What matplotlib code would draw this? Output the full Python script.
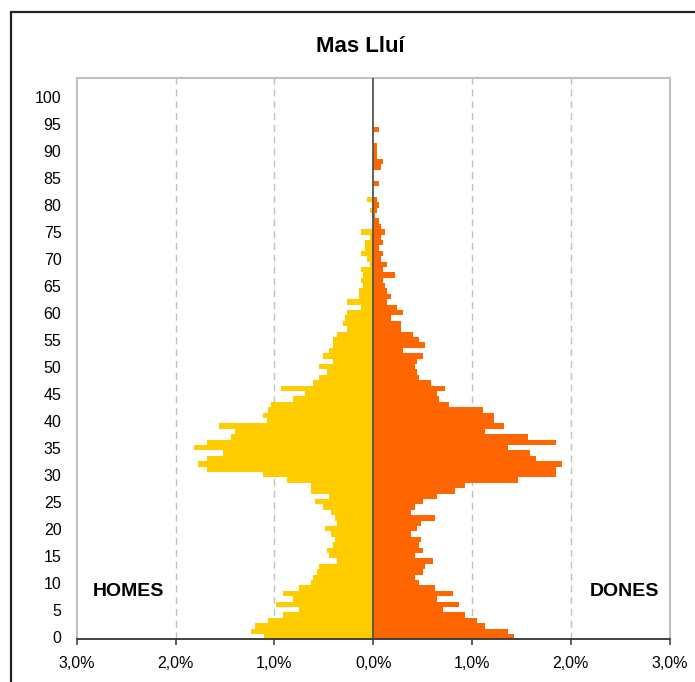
import numpy as np
import matplotlib
matplotlib.use("Agg")
import matplotlib.pyplot as plt
from matplotlib.patches import Rectangle

# ------------------------------------------------------------
# Data (% of total population per age)
# ------------------------------------------------------------
ages = list(range(0, 101))

homes = [1.109, 1.241, 1.201, 1.068, 0.915, 0.752, 0.986, 0.813, 0.915, 0.752,
         0.629, 0.609, 0.568, 0.548, 0.364, 0.446, 0.466, 0.405, 0.384, 0.425,
         0.486, 0.364, 0.384, 0.425, 0.507, 0.588, 0.446, 0.629, 0.629, 0.874,
         1.119, 1.680, 1.772, 1.680, 1.517, 1.813, 1.680, 1.435, 1.395, 1.558,
         1.078, 1.119, 1.068, 1.037, 0.813, 0.690, 0.935, 0.609, 0.548, 0.466,
         0.548, 0.405, 0.507, 0.446, 0.405, 0.405, 0.364, 0.262, 0.303, 0.282,
         0.262, 0.119, 0.262, 0.139, 0.139, 0.099, 0.119, 0.099, 0.119, 0.037,
         0.058, 0.119, 0.078, 0.078, 0.037, 0.119, 0.0, 0.0, 0.017, 0.037,
         0.017, 0.058, 0.017, 0.0, 0.0, 0.0, 0.0, 0.017, 0.017, 0.017,
         0.0, 0.0, 0.0, 0.017, 0.017, 0.0, 0.0, 0.0, 0.0, 0.0,
         0.0]

dones = [1.422, 1.361, 1.136, 1.054, 0.932, 0.707, 0.871, 0.646, 0.810, 0.626,
         0.463, 0.422, 0.503, 0.524, 0.605, 0.422, 0.503, 0.463, 0.483, 0.381,
         0.442, 0.483, 0.626, 0.381, 0.422, 0.503, 0.646, 0.830, 0.932, 1.463,
         1.850, 1.850, 1.912, 1.646, 1.585, 1.361, 1.850, 1.565, 1.136, 1.320,
         1.218, 1.218, 1.116, 0.769, 0.667, 0.646, 0.728, 0.585, 0.463, 0.442,
         0.422, 0.442, 0.503, 0.299, 0.524, 0.463, 0.401, 0.279, 0.279, 0.177,
         0.299, 0.238, 0.136, 0.177, 0.136, 0.116, 0.095, 0.218, 0.095, 0.136,
         0.075, 0.095, 0.054, 0.095, 0.075, 0.116, 0.075, 0.054, 0.017, 0.034,
         0.054, 0.034, 0.0, 0.0, 0.054, 0.0, 0.0, 0.075, 0.095, 0.034,
         0.034, 0.034, 0.0, 0.0, 0.054, 0.0, 0.0, 0.0, 0.0, 0.0,
         0.0]

x_ticks = [-3, -2, -1, 0, 1, 2, 3]
x_labels = ["3,0%", "2,0%", "1,0%", "0,0%", "1,0%", "2,0%", "3,0%"]
y_ticks = list(range(0, 101, 5))

title = "Mas Lluí"

# ------------------------------------------------------------
# Figure
# ------------------------------------------------------------
plt.rcParams["font.family"] = ["Liberation Sans", "DejaVu Sans"]

W, H = 695, 682
fig = plt.figure(figsize=(W / 100, H / 100), dpi=100)

# outer chart frame (cropped on right / bottom)
fig.patches.append(Rectangle((11 / W, -0.05), 1.1, 1 - 11.5 / H + 0.05,
                             transform=fig.transFigure, fill=False,
                             edgecolor="#222222", linewidth=1.6))

ax = fig.add_axes([76.7 / W, 1 - 639.3 / H, 593 / W, 561.3 / H])

ages = np.array(ages)
ax.barh(ages, -np.array(homes), height=1.0, color="#FFCC00", linewidth=0)
ax.barh(ages, np.array(dones), height=1.0, color="#FF6600", linewidth=0)

# dashed gridlines
for g in [-2, -1, 1, 2]:
    ax.axvline(g, color="#C0C0C0", linewidth=1.0, linestyle=(0, (5, 3.5)), zorder=0)

ax.axvline(0, color="#555555", linewidth=1.3, zorder=3)

ax.set_xlim(-3, 3)
ax.set_ylim(-0.5, 103.5)

ax.set_xticks(x_ticks)
ax.set_xticklabels(x_labels, fontsize=11.5)
ax.set_yticks(y_ticks)
ax.set_yticklabels([str(v) for v in y_ticks], fontsize=11.5)

ax.tick_params(axis="y", length=0, pad=11)
ax.tick_params(axis="x", length=4.5, width=1.2, color="#444444", pad=7.5)

for side in ["left", "top", "right"]:
    ax.spines[side].set_color("#C0C0C0")
    ax.spines[side].set_linewidth(1.5)
ax.spines["bottom"].set_color("#333333")
ax.spines["bottom"].set_linewidth(1.3)

ax.text(-2.84, 8.3, "HOMES", fontsize=14, fontweight="bold", ha="left", va="center")
ax.text(2.89, 8.3, "DONES", fontsize=14, fontweight="bold", ha="right", va="center")

fig.text(360 / W, 1 - 46.5 / H, title, fontsize=16, fontweight="bold",
         ha="center", va="center")

fig.savefig("out.png", dpi=100)
